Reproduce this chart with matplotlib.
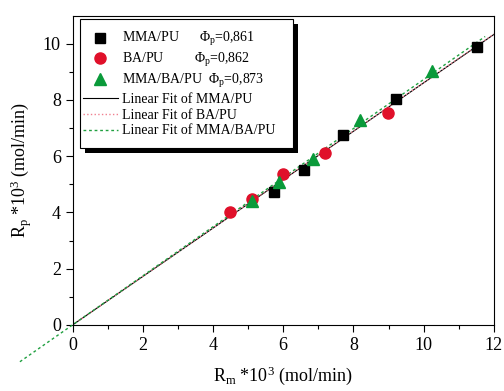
import numpy as np
import matplotlib
matplotlib.use("Agg")
import matplotlib.pyplot as plt
from matplotlib.patches import Rectangle

plt.rcParams['font.family'] = ['Liberation Serif', 'DejaVu Serif']
plt.rcParams['mathtext.fontset'] = 'custom'
plt.rcParams['mathtext.rm'] = 'Liberation Serif'
plt.rcParams['mathtext.it'] = 'Liberation Serif:italic'

# data
x_mma = [5.75, 6.58, 7.70, 9.22, 11.52]
y_mma = [4.74, 5.52, 6.77, 8.05, 9.88]
x_ba = [4.49, 5.12, 5.99, 7.18, 8.98]
y_ba = [4.03, 4.48, 5.35, 6.11, 7.54]
x_mba = [5.12, 5.87, 6.84, 8.19, 10.23]
y_mba = [4.42, 5.07, 5.91, 7.28, 9.02]
phi = [0.861, 0.862, 0.873]   # slope of the linear fits
fit_range = [(0, 12), (0, 12), (-1.5, 11.75)]

fig = plt.figure(figsize=(5.04, 3.91), dpi=100)
ax = fig.add_axes([0.144, 0.169, 0.836, 0.791])

ax.plot(x_mma, y_mma, 's', color='black', ms=7, label=r'MMA/PU      $\Phi_{\rm p}$=0,861', zorder=3)
ax.plot(x_ba, y_ba, 'o', color='#e0102a', ms=8, label=r'BA/PU         $\Phi_{\rm p}$=0,862', zorder=3)
ax.plot(x_mba, y_mba, '^', color='#0a9a3a', ms=8.5, label=r'MMA/BA/PU  $\Phi_{\rm p}$=0,873', zorder=3)

styles = [dict(color='black', ls='-', lw=0.8),
          dict(color='#f08090', ls=':', lw=1.0),
          dict(color='#20a040', ls=(0, (2, 2)), lw=1.0)]
names = ['MMA/PU', 'BA/PU', 'MMA/BA/PU']
for k in range(3):
    xs = np.array(fit_range[k])
    ax.plot(xs, phi[k] * xs, label='Linear Fit of ' + names[k],
            clip_on=(k != 2), **styles[k])

ax.set_xlim(0, 12)
ax.set_ylim(0, 11)
ax.set_xticks(np.arange(0, 13, 2))
ax.set_yticks(np.arange(0, 11, 2))
ax.set_xticks(np.arange(1, 12, 2), minor=True)
ax.set_yticks(np.arange(1, 11, 2), minor=True)
ax.tick_params(which='major', direction='out', length=5, width=0.8, labelsize=13, colors='black')
ax.tick_params(which='minor', direction='out', length=3, width=0.8)
for s in ax.spines.values():
    s.set_linewidth(0.8)

ax.set_xlabel(r'R$_{\rm m}$ *10$^3$ (mol/min)', fontsize=13, labelpad=8)
ax.set_ylabel(r'R$_{\rm p}$ *10$^3$ (mol/min)', fontsize=13, labelpad=6)

# legend box with a solid black shadow
bx0, bx1, by0, by1 = 0.018, 0.523, 0.572, 0.989
ax.add_patch(Rectangle((bx0 + 0.011, by0 - 0.015), bx1 - bx0, by1 - by0,
                       transform=ax.transAxes, facecolor='black', edgecolor='none', zorder=4))
ax.add_patch(Rectangle((bx0, by0), bx1 - bx0, by1 - by0, transform=ax.transAxes,
                       facecolor='white', edgecolor='black', lw=0.8, zorder=4))

leg = ax.legend(loc='upper left', fontsize=10, frameon=False, handlelength=2.5,
                handletextpad=0.3, borderpad=0, labelspacing=0.2,
                bbox_to_anchor=(0.025, 0.952), borderaxespad=0)
leg.set_zorder(5)

fig.savefig('out.png', dpi=100)
